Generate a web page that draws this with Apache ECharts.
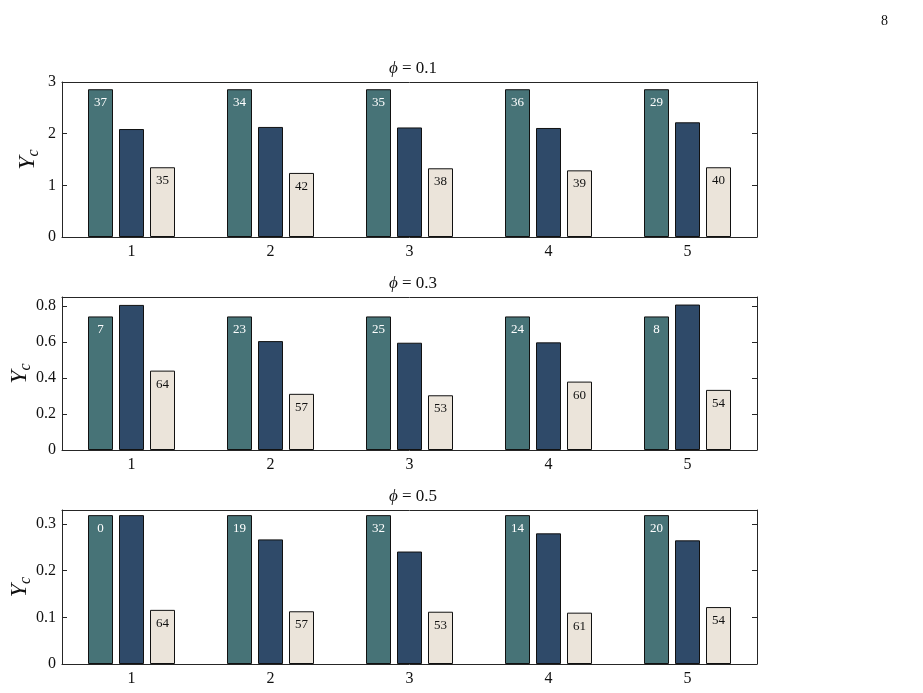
<!DOCTYPE html>
<html>
<head>
<meta charset="utf-8"/>
<title>Yc bars</title>
<style type="text/css">body,html{width:100%;height:100%;margin:0;background:#fff}#chart{width:923px;height:693px}</style>
<script src="https://cdn.jsdelivr.net/npm/echarts@6/dist/echarts.min.js"></script>
</head>
<body>
<div id="chart"></div>
<script>
// categories
var cats = ['1', '2', '3', '4', '5'];
var phis = ['0.1', '0.3', '0.5'];

// bar heights, one array per panel and series
var teal1 = [2.86, 2.86, 2.86, 2.86, 2.86];
var navy1 = [2.09, 2.13, 2.12, 2.11, 2.22];
var sand1 = [1.35, 1.24, 1.33, 1.29, 1.35];
var teal2 = [0.742, 0.742, 0.742, 0.742, 0.742];
var navy2 = [0.806, 0.605, 0.596, 0.598, 0.808];
var sand2 = [0.441, 0.312, 0.304, 0.380, 0.334];
var teal3 = [0.319, 0.319, 0.319, 0.319, 0.319];
var navy3 = [0.319, 0.267, 0.241, 0.280, 0.265];
var sand3 = [0.116, 0.113, 0.112, 0.110, 0.122];

// numbers printed inside the bars
var tealLbl1 = [37, 34, 35, 36, 29];
var sandLbl1 = [35, 42, 38, 39, 40];
var tealLbl2 = [7, 23, 25, 24, 8];
var sandLbl2 = [64, 57, 53, 60, 54];
var tealLbl3 = [0, 19, 32, 14, 20];
var sandLbl3 = [64, 57, 53, 61, 54];

// y axis ranges
var yMax = [3, 0.85, 0.33];
var yStep = [1, 0.2, 0.1];

var serif = '"Liberation Serif", "DejaVu Serif", serif';
var lineCol = '#262626';
var nameGaps = [20, 28, 28];
var grids = [
	{left: 62, right: 166, top: 82, height: 155, outerBoundsMode: 'none'},
	{left: 62, right: 166, top: 297, height: 153, outerBoundsMode: 'none'},
	{left: 62, right: 166, top: 510, height: 154, outerBoundsMode: 'none'}
];

var panels = [
	[teal1, navy1, sand1, tealLbl1, sandLbl1],
	[teal2, navy2, sand2, tealLbl2, sandLbl2],
	[teal3, navy3, sand3, tealLbl3, sandLbl3]
];

var xAxis = [], yAxis = [], series = [], title = [];
for (var i = 0; i < 3; i++) {
	//底部和顶部x轴
	xAxis.push({
		type: 'category', gridIndex: i, data: cats, position: 'bottom',
		axisLine: {onZero: false, lineStyle: {color: lineCol, width: 1}},
		axisTick: {inside: true, alignWithLabel: true, length: 5, lineStyle: {color: lineCol}},
		axisLabel: {fontFamily: serif, fontSize: 16, color: '#111', margin: 7}
	});
	xAxis.push({
		type: 'category', gridIndex: i, data: cats, position: 'top',
		axisLine: {onZero: false, lineStyle: {color: lineCol, width: 1}},
		axisTick: {inside: true, alignWithLabel: true, length: 5, lineStyle: {color: lineCol}},
		axisLabel: {show: false}
	});
	//左右y轴
	yAxis.push({
		type: 'value', gridIndex: i, min: 0, max: yMax[i], interval: yStep[i], position: 'left',
		name: '{y|Y}{c|c}', nameLocation: 'middle', nameGap: nameGaps[i], nameRotate: 90,
		nameMoveOverlap: false,
		nameTextStyle: {
			rich: {
				y: {fontFamily: serif, fontStyle: 'italic', fontSize: 24, color: '#111', lineHeight: 28},
				c: {fontFamily: serif, fontStyle: 'italic', fontSize: 16, color: '#111', lineHeight: 14, verticalAlign: 'bottom'}
			}
		},
		axisLine: {show: true, onZero: false, lineStyle: {color: lineCol, width: 1}},
		axisTick: {show: true, inside: true, length: 5, lineStyle: {color: lineCol}},
		axisLabel: {fontFamily: serif, fontSize: 16, color: '#111', margin: 6, showMaxLabel: yMax[i] % yStep[i] === 0 ? true : false},
		splitLine: {show: false}
	});
	yAxis.push({
		type: 'value', gridIndex: i, min: 0, max: yMax[i], interval: yStep[i], position: 'right',
		axisLine: {show: true, onZero: false, lineStyle: {color: lineCol, width: 1}},
		axisTick: {show: true, inside: true, length: 5, lineStyle: {color: lineCol}},
		axisLabel: {show: false},
		splitLine: {show: false}
	});
	title.push({
		text: '{p|ϕ} = ' + phis[i],
		left: 408, top: grids[i].top - 27, textAlign: 'center',
		textStyle: {fontFamily: serif, fontSize: 17, fontWeight: 'normal', color: '#111',
			rich: {p: {fontFamily: serif, fontStyle: 'italic', fontSize: 17, color: '#111'}}}
	});

	var p = panels[i];
	(function (tl, sl) {
		series.push({
			type: 'bar', xAxisIndex: 2 * i, yAxisIndex: 2 * i, data: p[0],
			barWidth: 25, barGap: '24%',
			itemStyle: {color: '#477377', borderColor: '#111', borderWidth: 1},
			label: {show: true, position: 'insideTop', distance: 7, color: '#fff', fontFamily: serif, fontSize: 13,
				formatter: function (d) { return String(tl[d.dataIndex]); }}
		});
		series.push({
			type: 'bar', xAxisIndex: 2 * i, yAxisIndex: 2 * i, data: p[1],
			barWidth: 25, barGap: '24%',
			itemStyle: {color: '#2f4a69', borderColor: '#111', borderWidth: 1}
		});
		series.push({
			type: 'bar', xAxisIndex: 2 * i, yAxisIndex: 2 * i, data: p[2],
			barWidth: 25, barGap: '24%',
			itemStyle: {color: '#ebe4da', borderColor: '#111', borderWidth: 1},
			label: {show: true, position: 'insideTop', distance: 7, color: '#111', fontFamily: serif, fontSize: 13,
				formatter: function (d) { return String(sl[d.dataIndex]); }}
		});
	})(p[3], p[4]);
}

//页码
title.push({
	text: '8', left: 876, top: 9,
	textStyle: {fontFamily: serif, fontSize: 14, fontWeight: 'normal', color: '#111'}
});

var myChart = echarts.init(document.getElementById('chart'));
myChart.setOption({
	animation: false,
	backgroundColor: '#fff',
	title: title,
	grid: grids,
	xAxis: xAxis,
	yAxis: yAxis,
	series: series
});
</script>
</body>
</html>
